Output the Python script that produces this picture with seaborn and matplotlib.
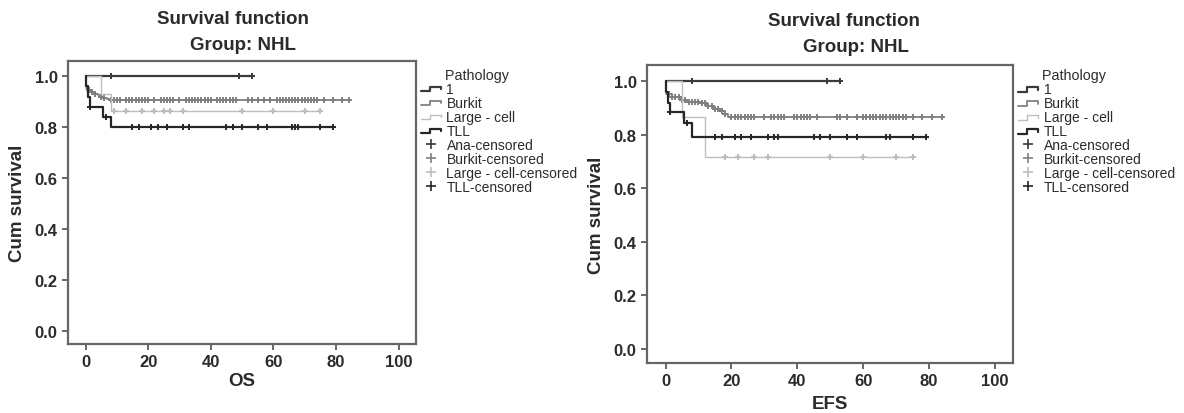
import numpy as np
import pandas as pd
import matplotlib
matplotlib.use("Agg")
import matplotlib.pyplot as plt
import seaborn as sns
from matplotlib.lines import Line2D
from matplotlib.legend_handler import HandlerBase

# --- data (step points + censor times) ---
# OS panel
ana_os_t = [0, 53]
ana_os_s = [1.0, 1.0]
ana_os_cens = [8, 49, 53]

burkit_os_t = [0, 1, 2, 3, 4, 5, 6, 7, 8, 84]
burkit_os_s = [0.952, 0.945, 0.94, 0.93, 0.925, 0.92, 0.915, 0.91, 0.905, 0.905]
burkit_os_cens = [1, 2, 3, 5, 6, 8, 9, 10, 11, 13, 14, 15, 16, 17, 18, 19, 20, 22, 24,
                  25, 26, 27, 28, 30, 32, 33, 34, 35, 36, 37, 38, 39, 40, 42, 43, 44,
                  45, 46, 47, 48, 52, 53, 55, 57, 59, 61, 62, 63, 64, 65, 66, 67, 68,
                  69, 70, 71, 72, 73, 74, 76, 79, 82, 84]

large_os_t = [0, 5, 8, 75]
large_os_s = [1.0, 0.93, 0.862, 0.862]
large_os_cens = [9, 13, 18, 22, 25, 27, 31, 50, 60, 70, 75]

tll_os_t = [0, 0.3, 0.8, 1.3, 5.5, 8, 79]
tll_os_s = [1.0, 0.96, 0.92, 0.88, 0.84, 0.80, 0.80]
tll_os_cens = [1.5, 6.5, 15, 17, 21, 23, 26, 31, 33, 45, 47, 50, 55, 58, 66, 67, 68, 75, 79]

# EFS panel
ana_efs_t = [0, 53]
ana_efs_s = [1.0, 1.0]
ana_efs_cens = [8, 49, 53]

burkit_efs_t = [0, 2, 4.5, 6.5, 10.5, 12.5, 14.5, 16.5, 18, 19, 84]
burkit_efs_s = [0.952, 0.94, 0.93, 0.923, 0.918, 0.908, 0.896, 0.89, 0.877, 0.865, 0.865]
burkit_efs_cens = [1, 2, 3, 4, 5, 6, 7, 8, 9, 10, 11, 12, 13, 14, 15, 16, 17, 18, 20, 21,
                   22, 23, 24, 25, 26, 27, 30, 32, 33, 34, 35, 36, 39, 40, 41, 42, 43, 44,
                   46, 52, 53, 55, 58, 60, 61, 62, 63, 64, 65, 66, 67, 68, 69, 70, 71, 72,
                   73, 75, 78, 81, 84]

large_efs_t = [0, 5, 12, 75]
large_efs_s = [1.0, 0.865, 0.715, 0.715]
large_efs_cens = [18, 22, 27, 31, 50, 60, 70, 75]

tll_efs_t = [0, 0.3, 0.8, 1.3, 5.5, 8, 79]
tll_efs_s = [1.0, 0.96, 0.92, 0.885, 0.845, 0.79, 0.79]
tll_efs_cens = [1.5, 6.5, 15, 17, 21, 23, 26, 31, 33, 34, 45, 47, 50, 55, 58, 67, 68, 75, 79]

groups = ["1", "Burkit", "Large - cell", "TLL"]
cens_labels = ["Ana-censored", "Burkit-censored", "Large - cell-censored", "TLL-censored"]
colors = ["#3a3a3a", "#808080", "#bdbdbd", "#262626"]
widths = [1.6, 1.3, 1.0, 1.6]

os_data = [(ana_os_t, ana_os_s, ana_os_cens), (burkit_os_t, burkit_os_s, burkit_os_cens),
           (large_os_t, large_os_s, large_os_cens), (tll_os_t, tll_os_s, tll_os_cens)]
efs_data = [(ana_efs_t, ana_efs_s, ana_efs_cens), (burkit_efs_t, burkit_efs_s, burkit_efs_cens),
            (large_efs_t, large_efs_s, large_efs_cens), (tll_efs_t, tll_efs_s, tll_efs_cens)]

sns.set_theme(style="white")
plt.rcParams['font.family'] = ['Liberation Sans', 'DejaVu Sans']
TXT = "#2b2b2b"
SPINE = "#666666"


class StepHandler(HandlerBase):
    # little "_|‾|" step glyph like the SPSS legend
    def create_artists(self, legend, orig_handle, xdescent, ydescent, width, height, fontsize, trans):
        x0, y0 = -xdescent, -ydescent
        xs = [x0, x0 + 0.45 * width, x0 + 0.45 * width, x0 + 0.95 * width, x0 + 0.95 * width]
        ys = [y0 + 0.15 * height, y0 + 0.15 * height, y0 + 0.65 * height, y0 + 0.65 * height, y0 + 0.35 * height]
        ln = Line2D(xs, ys, color=orig_handle.get_color(), lw=orig_handle.get_linewidth(), transform=trans)
        return [ln]


def draw_panel(ax, data, xlabel, xlabelpad, leg_y):
    for (t, s, cens), col, lw in zip(data, colors, widths):
        df = pd.DataFrame({"time": t, "surv": s})
        sns.lineplot(data=df, x="time", y="surv", drawstyle="steps-post", color=col,
                     linewidth=lw, ax=ax, legend=False, errorbar=None, sort=False)
        # censor marks sit on the curve value at that time
        idx = np.searchsorted(np.array(t), np.array(cens), side="right") - 1
        cy = np.array(s)[idx]
        ax.plot(cens, cy, linestyle="none", marker="+", markersize=5, markeredgewidth=1.4, color=col)

    ax.set_xlim(-5.6, 105.5)
    ax.set_ylim(-0.052, 1.06)
    ax.set_xticks([0, 20, 40, 60, 80, 100])
    ax.set_yticks([0.0, 0.2, 0.4, 0.6, 0.8, 1.0])
    ax.set_yticklabels(["0.0", "0.2", "0.4", "0.6", "0.8", "1.0"])
    ax.tick_params(axis="both", which="both", direction="out", length=4.5, width=1.4, color=SPINE,
                   labelsize=12, labelcolor=TXT, pad=3, bottom=True, left=True)
    for lab in ax.get_xticklabels() + ax.get_yticklabels():
        lab.set_fontweight("bold")
    for sp in ax.spines.values():
        sp.set_color(SPINE)
        sp.set_linewidth(1.6)
    ax.set_xlabel(xlabel, fontsize=13.5, fontweight="bold", color=TXT, labelpad=xlabelpad)
    ax.set_ylabel("Cum survival", fontsize=13.5, fontweight="bold", color=TXT, labelpad=6)

    step_h = [Line2D([], [], color=c, lw=w) for c, w in zip(colors, widths)]
    cens_h = [Line2D([], [], linestyle="none", marker="+", markersize=7, markeredgewidth=1.2, color=c)
              for c in colors]
    leg = ax.legend(step_h + cens_h, groups + cens_labels, title="      Pathology",
                    loc="upper left", bbox_to_anchor=(1.0, leg_y), borderaxespad=0, borderpad=0.35,
                    frameon=False, fontsize=10, title_fontsize=10.3, handlelength=1.5,
                    handletextpad=0.35, labelspacing=0.0,
                    handler_map={h: StepHandler() for h in step_h})
    leg._legend_box.align = "left"
    for txt in leg.get_texts():
        txt.set_color(TXT)
    leg.get_title().set_color(TXT)


fig = plt.figure(figsize=(11.84, 4.14), dpi=100)
ax1 = fig.add_axes([0.0574, 0.1667, 0.2939, 0.6835])
ax2 = fig.add_axes([0.5465, 0.1208, 0.3091, 0.7198])

draw_panel(ax1, os_data, "OS", 2, 0.993)
draw_panel(ax2, efs_data, "EFS", 5, 1.006)

# two-line titles, placed as in the original
fig.text(233 / 1184, 1 - 20 / 414, "Survival function", ha="center", va="center",
         fontsize=13.5, fontweight="bold", color=TXT)
fig.text(243 / 1184, 1 - 45 / 414, "Group: NHL", ha="center", va="center",
         fontsize=13.5, fontweight="bold", color=TXT)
fig.text(844 / 1184, 1 - 22 / 414, "Survival function", ha="center", va="center",
         fontsize=13.5, fontweight="bold", color=TXT)
fig.text(856 / 1184, 1 - 48 / 414, "Group: NHL", ha="center", va="center",
         fontsize=13.5, fontweight="bold", color=TXT)

fig.savefig("out.png", dpi=100, facecolor="white")
